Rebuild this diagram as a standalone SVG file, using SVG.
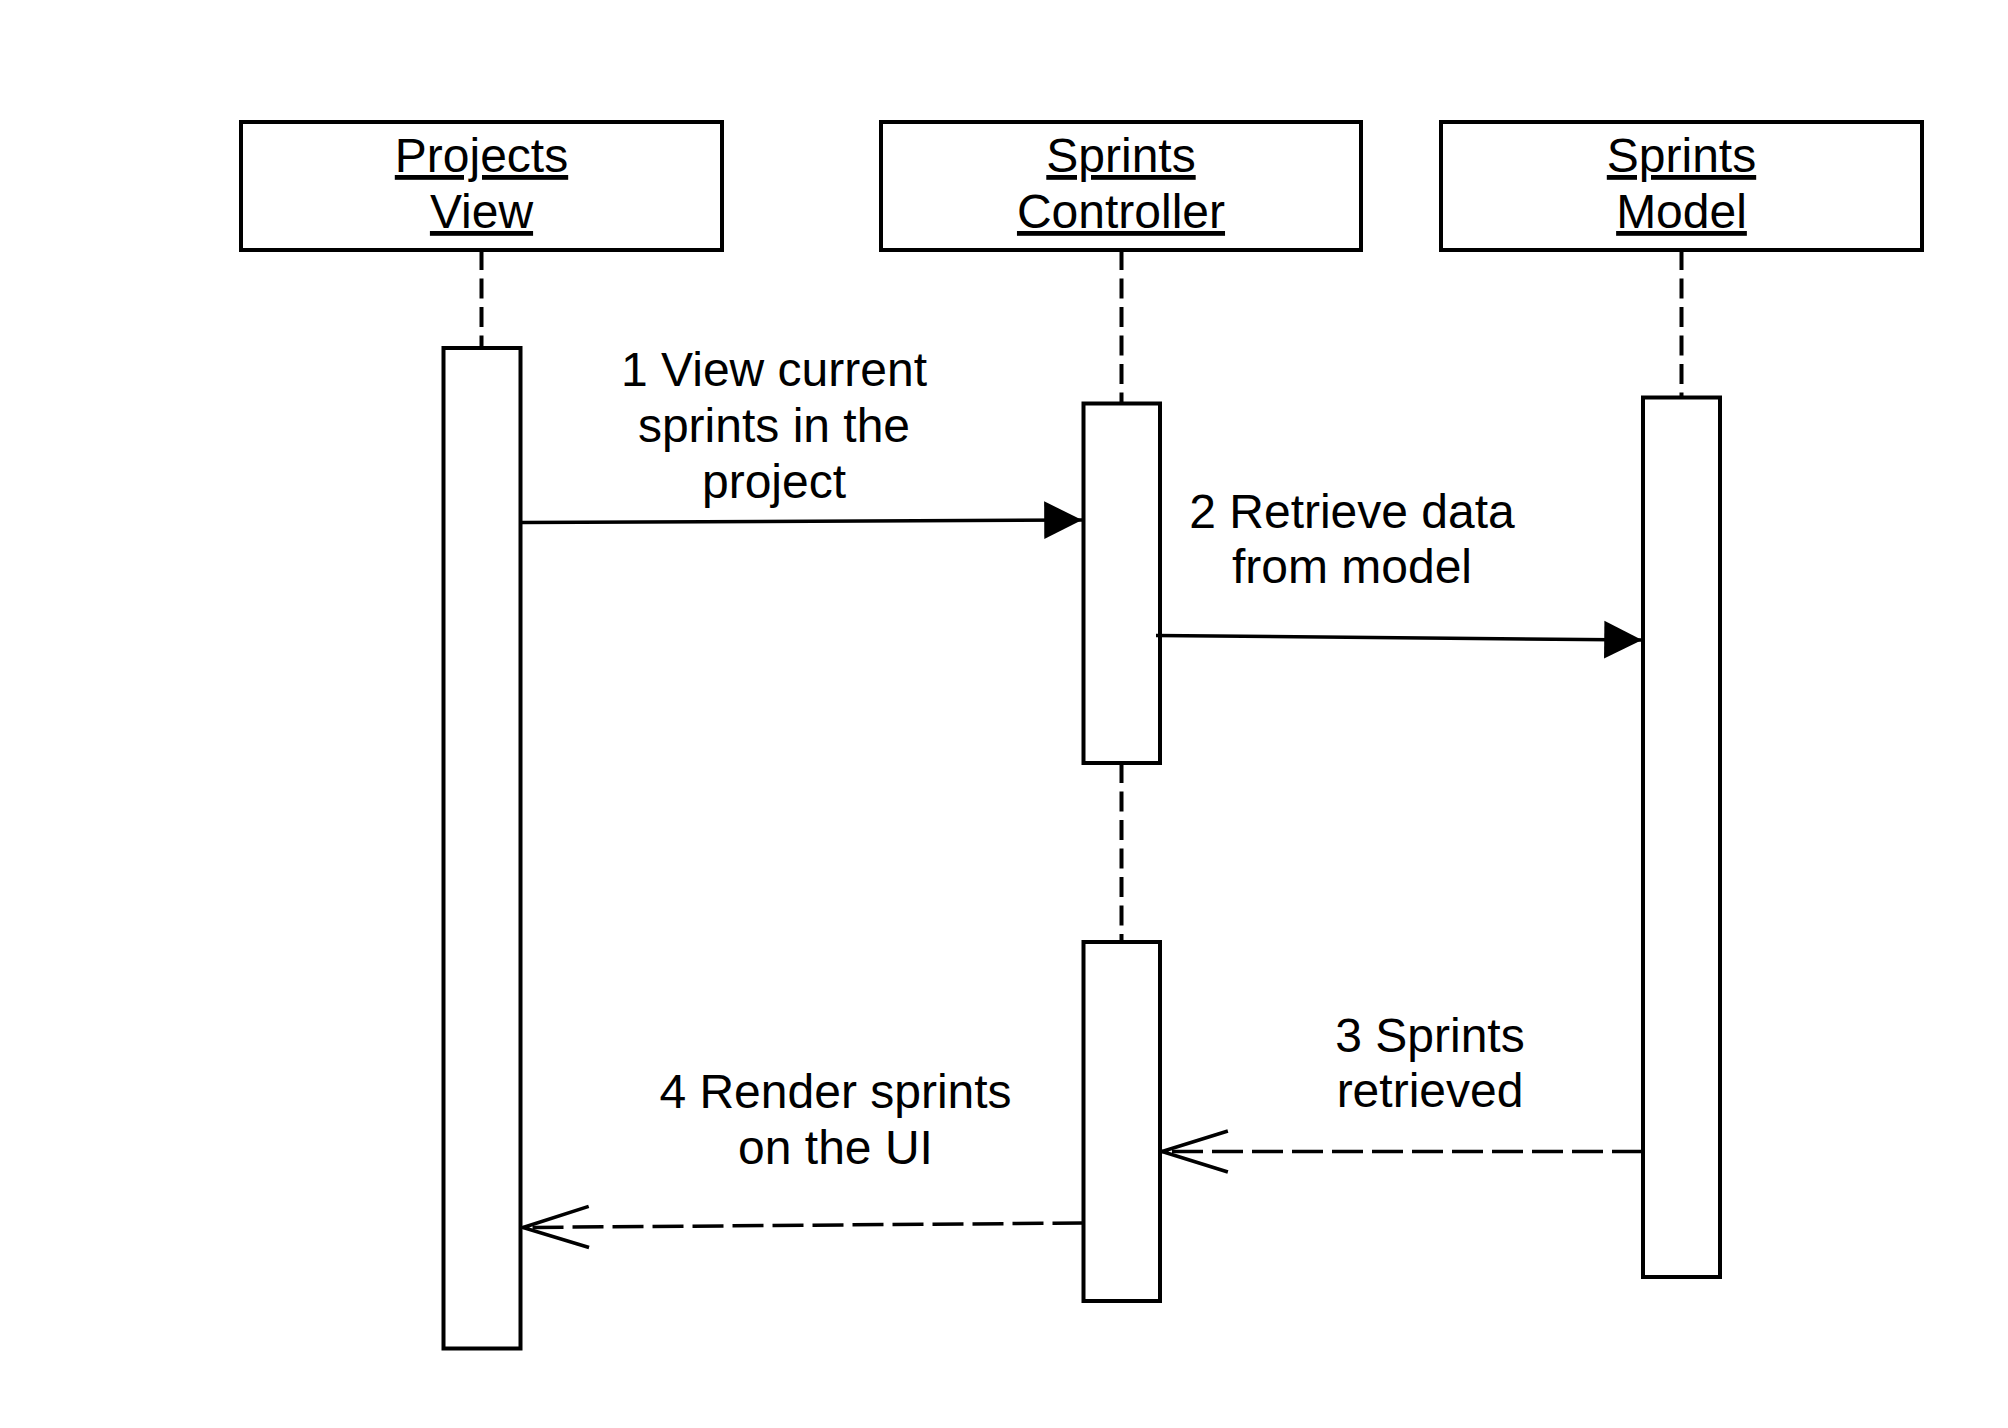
<svg xmlns="http://www.w3.org/2000/svg" width="2008" height="1428" viewBox="0 0 2008 1428">
<style>
.box{fill:#fff;stroke:#000;stroke-width:4}
.life{fill:none;stroke:#000;stroke-width:4;stroke-dasharray:20 8.5}
.msg{fill:none;stroke:#000;stroke-width:3.5}
.ret{fill:none;stroke:#000;stroke-width:3.5;stroke-dasharray:31 9}
.lbl{font-family:"Liberation Sans",Arial,sans-serif;font-size:48px;fill:#000;text-anchor:middle}
.ttl{text-decoration:underline}
</style>
<defs>
<marker id="solid" markerUnits="userSpaceOnUse" markerWidth="40" markerHeight="40" viewBox="0 0 34 36" refX="34" refY="18" orient="auto">
<path d="M0,1 L34,18 L0,35 Z" fill="#000"/>
</marker>
<marker id="open" markerUnits="userSpaceOnUse" markerWidth="70" markerHeight="50" viewBox="0 0 68 46" refX="66" refY="23" orient="auto">
<path d="M2,3 L66,23 L2,43" fill="none" stroke="#000" stroke-width="3.5"/>
</marker>
</defs>
<rect width="2008" height="1428" fill="#fff"/>
<g id="lifelines">
<line class="life" x1="481.5" y1="250" x2="481.5" y2="348"/>
<line class="life" x1="1121.5" y1="250" x2="1121.5" y2="403.5"/>
<line class="life" x1="1121.5" y1="763" x2="1121.5" y2="942"/>
<line class="life" x1="1681.5" y1="250" x2="1681.5" y2="397.5"/>
</g>
<g id="projects-view">
<rect class="box" x="241" y="122" width="481" height="128"/>
<text class="lbl ttl" x="481.5" y="172">Projects</text>
<text class="lbl ttl" x="481.5" y="228">View</text>
<rect class="box" x="443.5" y="348" width="77" height="1000.5"/>
</g>
<g id="sprints-controller">
<rect class="box" x="881" y="122" width="480" height="128"/>
<text class="lbl ttl" x="1121" y="172">Sprints</text>
<text class="lbl ttl" x="1121" y="228">Controller</text>
<rect class="box" x="1083.5" y="403.5" width="76.5" height="359.5"/>
<rect class="box" x="1083.5" y="942" width="76.5" height="359"/>
</g>
<g id="sprints-model">
<rect class="box" x="1441" y="122" width="481" height="128"/>
<text class="lbl ttl" x="1681.5" y="172">Sprints</text>
<text class="lbl ttl" x="1681.5" y="228">Model</text>
<rect class="box" x="1643" y="397.5" width="77" height="879.5"/>
</g>
<g id="connectors">
<line class="msg" x1="520.5" y1="522.5" x2="1082" y2="520" marker-end="url(#solid)"/>
<line class="msg" x1="1156" y1="635.5" x2="1642" y2="640" marker-end="url(#solid)"/>
<line class="ret" x1="1643" y1="1151.5" x2="1162" y2="1151.5" marker-end="url(#open)"/>
<line class="ret" x1="1083.5" y1="1223" x2="523" y2="1227.5" marker-end="url(#open)"/>
</g>
<g id="labels">
<text class="lbl" x="774" y="386">1 View current</text>
<text class="lbl" x="774" y="442">sprints in the</text>
<text class="lbl" x="774" y="498">project</text>
<text class="lbl" x="1352" y="528">2 Retrieve data</text>
<text class="lbl" x="1352" y="583">from model</text>
<text class="lbl" x="1430" y="1052">3 Sprints</text>
<text class="lbl" x="1430" y="1107">retrieved</text>
<text class="lbl" x="835.5" y="1108">4 Render sprints</text>
<text class="lbl" x="835.5" y="1164">on the UI</text>
</g>
</svg>
